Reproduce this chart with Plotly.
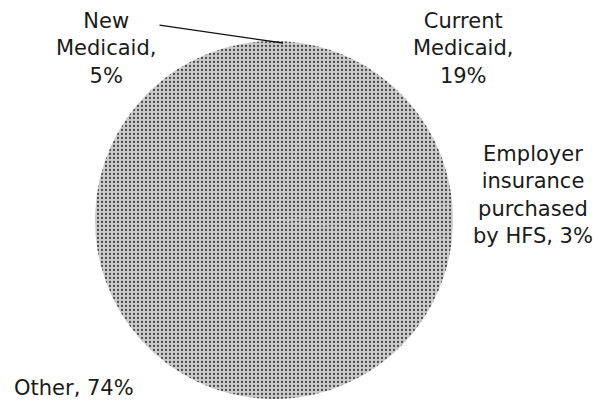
import plotly.graph_objects as go

labels = ["New Medicaid", "Current Medicaid", "Employer insurance purchased by HFS", "Other"]
values = [5, 19, 3, 74]
label_text = ["New<br>Medicaid,<br>5%", "Current<br>Medicaid,<br>19%",
              "Employer<br>insurance<br>purchased<br>by HFS, 3%", "Other, 74%"]

W, H = 598, 402
cx, cy, r = 274, 220, 179

fig = go.Figure(go.Pie(
    labels=labels, values=values, sort=False, direction="clockwise", rotation=0,
    textinfo="none", hoverinfo="label+percent", showlegend=False,
    marker=dict(colors=["#c8c8c8"] * 4, line=dict(width=0),
                pattern=dict(shape=".", fgcolor="#4a4a4a", bgcolor="#cccccc",
                             size=4, solidity=0.25)),
    domain=dict(x=[(cx - r) / W, (cx + r) / W], y=[(H - cy - r) / H, (H - cy + r) / H]),
))

font = dict(family="DejaVu Sans, sans-serif", size=21, color="#1a1a1a")
pos = [(106, 48), (463, 49), (533, 195), (74, 388)]
for t, (x, y) in zip(label_text, pos):
    fig.add_annotation(text=t, x=x / W, y=1 - y / H, xref="paper", yref="paper",
                       showarrow=False, font=font, align="center",
                       xanchor="center", yanchor="middle")

# leader line for New Medicaid
fig.add_annotation(text="", x=283 / W, y=1 - 43 / H, xref="paper", yref="paper",
                   ax=158 - 283, ay=25 - 43, axref="pixel", ayref="pixel",
                   showarrow=True, arrowhead=0, arrowwidth=1.3, arrowcolor="#111")

fig.update_layout(width=W, height=H, margin=dict(l=0, r=0, t=0, b=0),
                  paper_bgcolor="white", plot_bgcolor="white")
fig.write_html("out.html")
